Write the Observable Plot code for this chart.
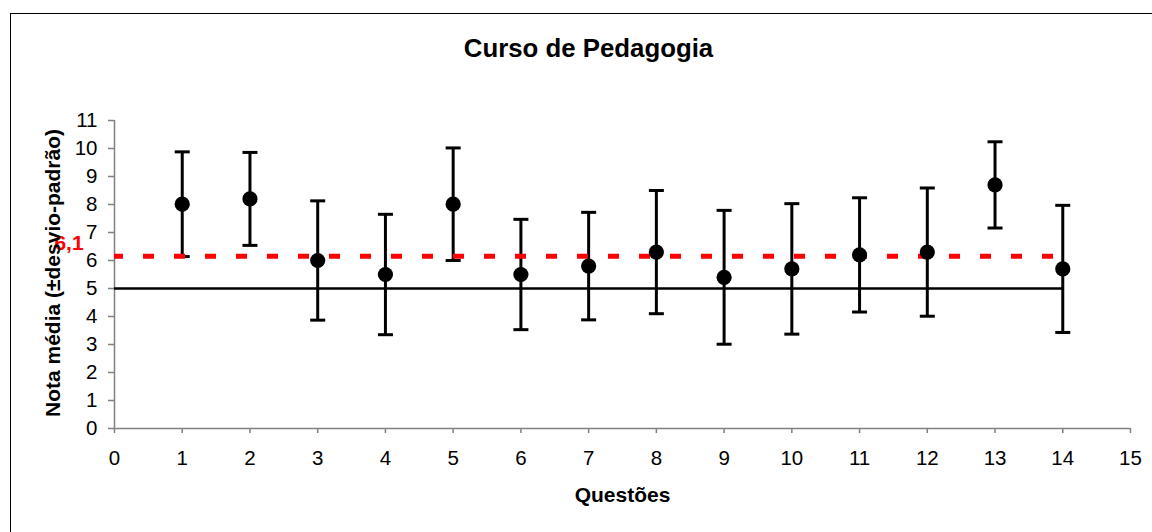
<!DOCTYPE html>
<html>
<head>
<meta charset="utf-8">
<script src="https://cdn.jsdelivr.net/npm/d3@7"></script>
<script src="https://cdn.jsdelivr.net/npm/@observablehq/plot@0.6"></script>
<style>
  html, body { margin: 0; padding: 0; background: #fff; }
  #wrap { position: relative; width: 1152px; height: 532px; overflow: hidden; }
  #frame { position: absolute; left: 10px; top: 12.5px; width: 1300px; height: 700px;
           border-left: 1.5px solid #000; border-top: 1.5px solid #000; }
  #chart { position: absolute; left: 0; top: 0; }
  #chart svg { font-family: "Liberation Sans", Arial, sans-serif; }
</style>
</head>
<body>
<div id="wrap"><div id="frame"></div><div id="chart"></div></div>
<script>
// ---- data ----
const questions = [1, 2, 3, 4, 5, 6, 7, 8, 9, 10, 11, 12, 13, 14];
const means     = [8.01, 8.2, 6.0, 5.5, 8.01, 5.5, 5.8, 6.3, 5.4, 5.7, 6.2, 6.3, 8.7, 5.7];
const sds       = [1.87, 1.66, 2.13, 2.15, 2.01, 1.97, 1.92, 2.2, 2.39, 2.33, 2.04, 2.29, 1.54, 2.27];
const passMark = 5;
const overallMean = 6.15;
const overallMeanLabel = "6,1";
const xTicks = [0, 1, 2, 3, 4, 5, 6, 7, 8, 9, 10, 11, 12, 13, 14, 15];
const yTicks = [0, 1, 2, 3, 4, 5, 6, 7, 8, 9, 10, 11];
const titleText = "Curso de Pedagogia";
const xLabel = "Questões";
const yLabel = "Nota média (±desvio-padrão)";

const rows = questions.map((q, i) => ({q, mean: means[i], lo: means[i] - sds[i], hi: means[i] + sds[i]}));
const lastQ = questions[questions.length - 1];

// horizontal cap symbol for error bars
const capSymbol = {
  draw(context, size) {
    const w = Math.sqrt(size / Math.PI);
    context.moveTo(-w, 0);
    context.lineTo(w, 0);
  }
};

const chart = Plot.plot({
  width: 1152,
  height: 532,
  marginLeft: 114,
  marginRight: 22,
  marginTop: 120,
  marginBottom: 104,
  style: {background: "transparent", fontFamily: "'Liberation Sans', Arial, sans-serif", color: "#000"},
  x: {domain: [0, 15], axis: null},
  y: {domain: [0, 11], axis: null},
  marks: [
    Plot.axisX({ticks: xTicks, tickSize: 5, tickPadding: 17, stroke: "#808080", strokeWidth: 1.5, fill: "#000", fontSize: 20.5, label: null, tickFormat: d => String(d)}),
    Plot.axisY({ticks: yTicks, tickSize: 6, tickPadding: 11, stroke: "#808080", strokeWidth: 1.5, fill: "#000", fontSize: 20.5, label: null, tickFormat: d => String(d)}),
    Plot.ruleY([0], {stroke: "#808080", strokeWidth: 1.5}),
    Plot.ruleX([0], {stroke: "#808080", strokeWidth: 1.5}),
    // pass-mark line
    Plot.ruleY([passMark], {x1: 0, x2: lastQ, stroke: "#000", strokeWidth: 2.5}),
    // error bars
    Plot.ruleX(rows, {x: "q", y1: "lo", y2: "hi", stroke: "#000", strokeWidth: 3}),
    Plot.dot(rows, {x: "q", y: "hi", symbol: capSymbol, r: 7.5, stroke: "#000", strokeWidth: 3, fill: "none"}),
    Plot.dot(rows, {x: "q", y: "lo", symbol: capSymbol, r: 7.5, stroke: "#000", strokeWidth: 3, fill: "none"}),
    // overall mean line
    Plot.ruleY([overallMean], {x1: 0, x2: lastQ, stroke: "#ff0000", strokeWidth: 5, strokeDasharray: "11,20", strokeDashoffset: 2}),
    Plot.text([overallMeanLabel], {x: 0, y: overallMean, text: d => d, dx: -45.5, dy: -6.5, lineAnchor: "bottom", textAnchor: "middle", fill: "#ff0000", fontWeight: "bold", fontSize: 21}),
    // means
    Plot.dot(rows, {x: "q", y: "mean", r: 7.6, fill: "#000", stroke: "none"}),
    // titles
    Plot.text([titleText], {frameAnchor: "top", text: d => d, dx: -34, dy: -63.5, lineAnchor: "bottom", textAnchor: "middle", fontWeight: "bold", fontSize: 25.8, fill: "#000"}),
    Plot.text([xLabel], {frameAnchor: "bottom", text: d => d, dx: 0, dy: 73.5, lineAnchor: "bottom", textAnchor: "middle", fontWeight: "bold", fontSize: 21, fill: "#000"}),
    Plot.text([yLabel], {frameAnchor: "left", text: d => d, dx: -61, dy: -1.5, rotate: -90, lineAnchor: "middle", textAnchor: "middle", fontWeight: "bold", fontSize: 21, fill: "#000"})
  ]
});
document.getElementById("chart").appendChild(chart);
</script>
</body>
</html>
